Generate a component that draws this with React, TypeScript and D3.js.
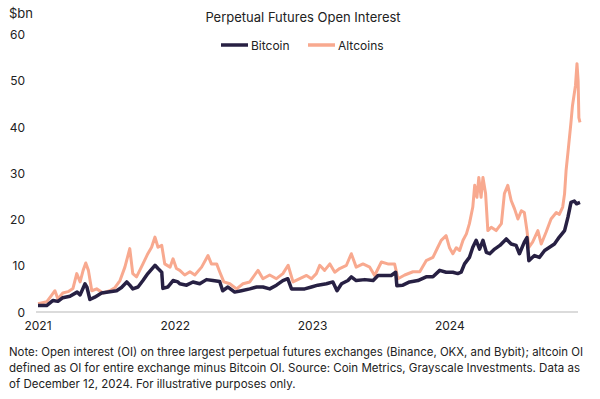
import React from 'react';
import * as d3 from 'd3';

// values, $bn
const bitcoin: [string, number][] = [
  ['2021-01-01', 1.4], ['2021-01-24', 1.4], ['2021-02-10', 2.5], ['2021-02-23', 2.3],
  ['2021-03-08', 3.1], ['2021-03-27', 3.4], ['2021-04-15', 4.3], ['2021-04-23', 3.7],
  ['2021-05-06', 6.1], ['2021-05-11', 5.4], ['2021-05-19', 2.7], ['2021-06-01', 3.2],
  ['2021-06-19', 4.1], ['2021-07-11', 4.4], ['2021-07-29', 4.6], ['2021-08-11', 5.3],
  ['2021-08-25', 6.5], ['2021-09-02', 5.8], ['2021-09-10', 5.0], ['2021-09-24', 5.4],
  ['2021-10-07', 6.8], ['2021-10-20', 8.3], ['2021-11-08', 10.1], ['2021-11-16', 9.4],
  ['2021-11-26', 8.6], ['2021-11-29', 5.1], ['2021-12-12', 5.4], ['2021-12-26', 6.8],
  ['2022-01-08', 6.5], ['2022-01-13', 6.1], ['2022-01-31', 5.8], ['2022-02-17', 6.5],
  ['2022-03-07', 6.1], ['2022-03-25', 7.0], ['2022-04-11', 6.8], ['2022-04-29', 6.6],
  ['2022-05-07', 4.6], ['2022-05-21', 5.4], ['2022-06-08', 4.3], ['2022-06-26', 4.6],
  ['2022-07-18', 5.0], ['2022-08-05', 5.4], ['2022-08-22', 5.4], ['2022-09-09', 5.0],
  ['2022-09-27', 5.8], ['2022-10-14', 6.8], ['2022-10-27', 7.2], ['2022-11-06', 5.0],
  ['2022-11-23', 5.0], ['2022-12-11', 5.0], ['2022-12-29', 5.4], ['2023-01-15', 5.8],
  ['2023-02-07', 6.1], ['2023-02-24', 6.5], ['2023-03-07', 4.6], ['2023-03-19', 6.1],
  ['2023-04-05', 6.8], ['2023-04-14', 7.6], ['2023-04-27', 6.8], ['2023-05-20', 7.0],
  ['2023-06-11', 6.8], ['2023-06-24', 7.9], ['2023-07-12', 7.9], ['2023-07-29', 7.9],
  ['2023-08-10', 8.6], ['2023-08-13', 5.7], ['2023-08-29', 5.8], ['2023-09-16', 6.5],
  ['2023-10-08', 6.8], ['2023-10-30', 7.6], ['2023-11-17', 7.6], ['2023-12-05', 9.0],
  ['2023-12-22', 8.6], ['2024-01-09', 8.6], ['2024-01-22', 8.3], ['2024-01-31', 8.6],
  ['2024-02-09', 10.4], ['2024-02-22', 11.8], ['2024-03-02', 14.0], ['2024-03-11', 15.5],
  ['2024-03-20', 13.6], ['2024-03-29', 15.5], ['2024-04-07', 12.9], ['2024-04-16', 12.6],
  ['2024-04-29', 13.6], ['2024-05-13', 14.4], ['2024-05-30', 15.8], ['2024-06-12', 14.7],
  ['2024-06-25', 14.4], ['2024-07-04', 12.6], ['2024-07-17', 15.1], ['2024-07-24', 16.1],
  ['2024-07-29', 11.1], ['2024-08-13', 12.2], ['2024-08-26', 11.8], ['2024-09-09', 13.3],
  ['2024-09-22', 14.0], ['2024-10-05', 14.7], ['2024-10-18', 16.2], ['2024-11-01', 17.6],
  ['2024-11-10', 20.5], ['2024-11-18', 23.7], ['2024-11-27', 24.0], ['2024-12-03', 23.4],
  ['2024-12-12', 23.7],
];

const altcoins: [string, number][] = [
  ['2021-01-01', 1.8], ['2021-01-24', 2.2], ['2021-02-06', 3.6], ['2021-02-15', 4.6],
  ['2021-02-23', 2.8], ['2021-03-08', 4.1], ['2021-03-22', 4.4], ['2021-04-04', 5.1],
  ['2021-04-14', 8.3], ['2021-04-23', 6.5], ['2021-05-01', 9.0], ['2021-05-08', 10.6],
  ['2021-05-15', 9.0], ['2021-05-24', 4.6], ['2021-06-06', 5.0], ['2021-06-23', 4.1],
  ['2021-07-11', 4.6], ['2021-07-25', 5.3], ['2021-08-07', 6.8], ['2021-08-20', 9.7],
  ['2021-09-02', 13.7], ['2021-09-10', 8.3], ['2021-09-20', 7.6], ['2021-10-07', 10.4],
  ['2021-10-20', 12.6], ['2021-10-30', 14.0], ['2021-11-08', 16.2], ['2021-11-16', 14.0],
  ['2021-11-26', 14.4], ['2021-12-04', 10.4], ['2021-12-18', 9.7], ['2021-12-26', 11.5],
  ['2022-01-04', 9.4], ['2022-01-13', 9.0], ['2022-01-26', 8.0], ['2022-02-09', 8.7],
  ['2022-02-22', 8.0], ['2022-03-12', 9.7], ['2022-03-29', 12.2], ['2022-04-07', 10.4],
  ['2022-04-21', 10.4], ['2022-04-29', 8.7], ['2022-05-10', 6.5], ['2022-05-26', 6.1],
  ['2022-06-13', 5.0], ['2022-06-30', 6.1], ['2022-07-18', 6.5], ['2022-07-31', 8.0],
  ['2022-08-09', 9.0], ['2022-08-22', 7.2], ['2022-09-09', 8.0], ['2022-09-27', 7.2],
  ['2022-10-14', 8.3], ['2022-10-28', 10.1], ['2022-11-10', 6.5], ['2022-11-28', 7.2],
  ['2022-12-16', 7.9], ['2022-12-29', 7.2], ['2023-01-11', 8.3], ['2023-01-20', 10.1],
  ['2023-02-02', 9.0], ['2023-02-16', 10.4], ['2023-03-01', 8.6], ['2023-03-14', 9.4],
  ['2023-04-01', 10.1], ['2023-04-14', 12.6], ['2023-04-27', 9.7], ['2023-05-15', 10.4],
  ['2023-06-02', 9.7], ['2023-06-15', 7.9], ['2023-07-03', 10.8], ['2023-07-20', 10.4],
  ['2023-08-07', 10.4], ['2023-08-16', 7.2], ['2023-09-03', 8.0], ['2023-09-25', 8.7],
  ['2023-10-13', 8.7], ['2023-10-30', 11.1], ['2023-11-17', 11.8], ['2023-11-30', 14.0],
  ['2023-12-09', 15.5], ['2023-12-22', 16.5], ['2023-12-31', 13.9], ['2024-01-09', 12.6],
  ['2024-01-18', 13.9], ['2024-01-27', 13.3], ['2024-02-05', 15.5], ['2024-02-14', 16.9],
  ['2024-02-22', 19.1], ['2024-03-02', 22.7], ['2024-03-07', 27.4], ['2024-03-13', 24.8],
  ['2024-03-18', 29.1], ['2024-03-24', 24.8], ['2024-03-29', 29.1], ['2024-04-05', 25.6],
  ['2024-04-11', 17.6], ['2024-04-20', 18.3], ['2024-05-03', 17.6], ['2024-05-17', 19.1],
  ['2024-05-25', 25.6], ['2024-06-03', 27.4], ['2024-06-12', 24.1], ['2024-06-21', 22.3],
  ['2024-06-30', 20.1], ['2024-07-09', 21.9], ['2024-07-17', 21.5], ['2024-07-24', 17.6],
  ['2024-07-29', 14.0], ['2024-08-08', 15.1], ['2024-08-22', 17.6], ['2024-08-31', 14.7],
  ['2024-09-13', 17.3], ['2024-09-26', 20.1], ['2024-10-10', 21.5], ['2024-10-18', 21.1],
  ['2024-10-27', 22.7], ['2024-11-01', 25.6], ['2024-11-05', 30.6], ['2024-11-10', 34.5],
  ['2024-11-18', 41.0], ['2024-11-22', 44.6], ['2024-11-30', 49.0], ['2024-12-04', 53.7],
  ['2024-12-07', 50.0], ['2024-12-09', 42.0], ['2024-12-12', 41.0],
];

const yTicks = [0, 10, 20, 30, 40, 50, 60];
const xTickYears = ['2021', '2022', '2023', '2024'];
const noteLines = [
  'Note: Open interest (OI) on three largest perpetual futures exchanges (Binance, OKX, and Bybit); altcoin OI',
  'defined as OI for entire exchange minus Bitcoin OI. Source: Coin Metrics, Grayscale Investments. Data as',
  'of December 12, 2024. For illustrative purposes only.',
];

const W = 600, H = 399;
const font = 'Inter, "Noto Sans", sans-serif';
const BTC = '#272043';
const ALT = '#f8a98f';

export default function App() {
  const parse = d3.timeParse('%Y-%m-%d');
  const x = d3.scaleTime()
    .domain([parse('2021-01-01')!, parse('2024-12-12')!])
    .range([38, 580]);
  const y = d3.scaleLinear().domain([0, 60]).range([312, 34.5]);

  const line = d3.line<[string, number]>()
    .x(d => x(parse(d[0])!))
    .y(d => y(d[1]));

  return (
    <svg width={W} height={H} style={{ position: 'fixed', left: 0, top: 0, background: '#fff' }}
      fontFamily={font}>
      <text x={9} y={18} fontSize={13} fill="#222">$bn</text>
      <text x={303} y={22} fontSize={13} textAnchor="middle" fill="#222">Perpetual Futures Open Interest</text>

      <line x1={221} x2={248} y1={45} y2={45} stroke={BTC} strokeWidth={3.5} />
      <text x={251} y={49.5} fontSize={12} fill="#222">Bitcoin</text>
      <line x1={308} x2={335} y1={45} y2={45} stroke={ALT} strokeWidth={3.5} />
      <text x={338} y={49.5} fontSize={12} fill="#222">Altcoins</text>

      {yTicks.map(t => (
        <text key={t} x={25} y={y(t) + 4.5} fontSize={12} textAnchor="end" fill="#222">{t}</text>
      ))}
      <line x1={36} x2={578} y1={y(0)} y2={y(0)} stroke="#cfcfcf" strokeWidth={1.5} />
      {xTickYears.map(t => (
        <text key={t} x={x(parse(t + '-01-01')!)} y={330} fontSize={12} textAnchor="middle" fill="#222">{t}</text>
      ))}

      <path d={line(altcoins) ?? ''} fill="none" stroke={ALT} strokeWidth={3} strokeLinejoin="round" />
      <path d={line(bitcoin) ?? ''} fill="none" stroke={BTC} strokeWidth={3.5} strokeLinejoin="round" />

      {noteLines.map((l, i) => (
        <text key={i} x={9} y={356 + i * 16} fontSize={11.5} fill="#222"
          textLength={i < 2 ? (i === 0 ? 574 : 571) : undefined} lengthAdjust="spacingAndGlyphs">{l}</text>
      ))}
    </svg>
  );
}
